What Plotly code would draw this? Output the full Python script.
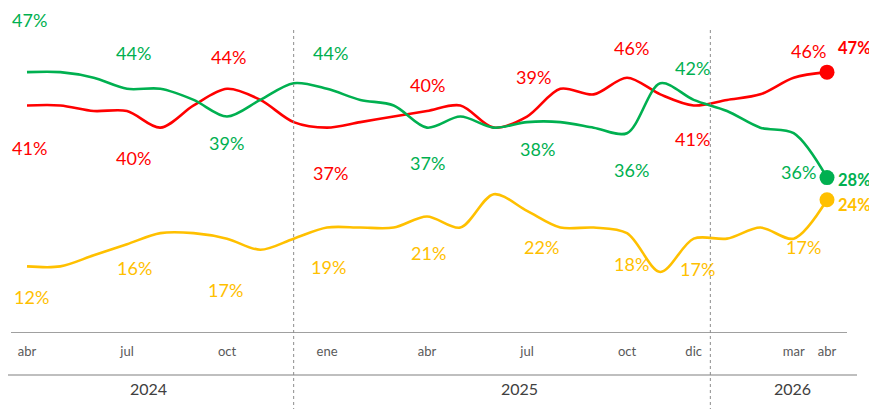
import plotly.graph_objects as go

# monthly series, abr 2024 .. abr 2026 (25 months)
months = list(range(25))
green = [47, 47, 46, 44, 44, 42, 39, 42, 45, 44, 42, 41, 37, 39, 37, 38, 38, 37, 36, 45, 42, 40, 37, 36, 28]
red = [41, 41, 40, 40, 37, 41, 44, 42, 38, 37, 38, 39, 40, 41, 37, 39, 44, 43, 46, 43, 41, 42, 43, 46, 47]
yellow = [12, 12, 14, 16, 18, 18, 17, 15, 17, 19, 19, 19, 21, 19, 25, 22, 19, 19, 18, 11, 17, 17, 19, 17, 24]

tick_idx = [0, 3, 6, 9, 12, 15, 18, 20, 23, 24]
tick_text = ["abr", "jul", "oct", "ene", "abr", "jul", "oct", "dic", "mar", "abr"]
years = ["2024", "2025", "2026"]
year_x = [3.63, 14.76, 22.95]
separators = [8, 20.5]

GREEN = "#00B050"
RED = "#FF0000"
YELLOW = "#FFC000"
FONT = "Lato"

# label offsets in px (xshift, yshift) for the labelled months
green_off = [(2, 52), (6, 36), (-1, -26), (3, 36), (0, -35), (10, -27), (4, -37), (-1, 32), (5, -39)]
red_off = [(2, -43), (6, -47), (1, 32), (3, -45), (0, 26), (6, 40), (4, 30), (-1, -34), (15, 27)]
yellow_off = [(4, -31), (7, -24), (-2, -51), (1, -39), (1, -37), (14, -36), (4, -31), (4, -30), (10, -8)]
end_off = {"green": -2, "red": 24, "yellow": -5}

fig = go.Figure()
annotations = []

for name, vals, color, offs in [("red", red, RED, red_off), ("green", green, GREEN, green_off),
                                ("yellow", yellow, YELLOW, yellow_off)]:
    fig.add_trace(go.Scatter(
        x=months, y=vals, mode="lines",
        line=dict(color=color, width=2.6, shape="spline", smoothing=0.9),
        hoverinfo="skip", showlegend=False
    ))
    fig.add_trace(go.Scatter(
        x=[months[-1]], y=[vals[-1]], mode="markers",
        marker=dict(color=color, size=15),
        hoverinfo="skip", showlegend=False
    ))
    for i, (dx, dy) in zip(tick_idx[:-1], offs):
        annotations.append(dict(
            x=months[i], y=vals[i], xref="x", yref="y", text=f"{vals[i]}%",
            showarrow=False, xshift=dx, yshift=dy,
            font=dict(family=FONT, size=18, color=color)
        ))
    annotations.append(dict(
        x=months[-1], y=vals[-1], xref="x", yref="y", text=f"<b>{vals[-1]}%</b>",
        showarrow=False, xanchor="left", xshift=9, yshift=end_off[name],
        font=dict(family=FONT, size=16.5, color=color)
    ))

for yr, xv in zip(years, year_x):
    annotations.append(dict(
        x=xv, y=-0.206, xref="x", yref="paper", text=yr, showarrow=False,
        font=dict(family=FONT, size=16, color="#404040")
    ))

shapes = [
    dict(type="line", xref="x", yref="y", x0=-0.48, x1=24.6, y0=0, y1=0,
         line=dict(color="#808080", width=1.5)),
    dict(type="line", xref="x", yref="paper", x0=-0.6, x1=24.9, y0=-0.129, y1=-0.129,
         line=dict(color="#bfbfbf", width=2)),
]
for sx in separators:
    shapes.append(dict(type="line", xref="x", yref="paper", x0=sx, x1=sx, y0=-0.24, y1=0.94,
                       line=dict(color="#8c8c8c", width=1, dash="dot")))

# page body has an 8px margin, so the figure is 8px smaller than the window
fig.update_layout(
    width=869, height=401,
    margin=dict(l=0, r=0, t=0, b=76),
    paper_bgcolor="#ffffff", plot_bgcolor="#ffffff",
    font=dict(family=FONT, color="#595959"),
    annotations=annotations, shapes=shapes,
    xaxis=dict(range=[-0.57, 25.5], tickvals=tick_idx, ticktext=tick_text,
               showgrid=False, zeroline=False, showline=False, ticks="",
               ticklabelstandoff=9, tickfont=dict(family=FONT, size=13, color="#595959")),
    yaxis=dict(range=[0, 58.56], showgrid=False, zeroline=False, showticklabels=False),
)

fig.write_html("out.html")
